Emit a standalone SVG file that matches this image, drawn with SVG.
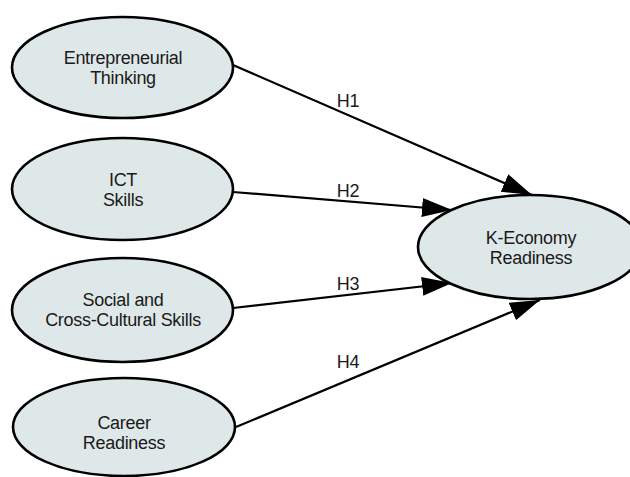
<svg xmlns="http://www.w3.org/2000/svg" width="630" height="477" viewBox="0 0 630 477">
<style>
.node ellipse{fill:#dfe8e8;stroke:#000;stroke-width:2.6}
text{font-family:"Liberation Sans",Arial,sans-serif;font-size:18px;fill:#1a1a1a;text-anchor:middle;letter-spacing:-0.3px}
.edge{stroke:#000;stroke-width:2.2;fill:none;marker-end:url(#arr)}
</style>
<defs>
<marker id="arr" markerUnits="userSpaceOnUse" markerWidth="32" markerHeight="20" refX="30" refY="9.5" orient="auto">
<path d="M0,0 L30,9.5 L0,19 Z" fill="#000"/>
</marker>
</defs>
<rect width="630" height="477" fill="#fff"/>
<g id="connectors">
<line class="edge" x1="233" y1="65" x2="532" y2="195"/>
<line class="edge" x1="233" y1="192" x2="452" y2="210"/>
<line class="edge" x1="233" y1="308" x2="452" y2="283"/>
<line class="edge" x1="236" y1="427" x2="540" y2="300"/>
<text x="348" y="107">H1</text>
<text x="348" y="197">H2</text>
<text x="348" y="290">H3</text>
<text x="348" y="368">H4</text>
</g>
<g id="entrepreneurial" class="node">
<ellipse cx="122.5" cy="67.5" rx="110.5" ry="50.5"/>
<text x="123" y="64">Entrepreneurial</text>
<text x="123" y="84">Thinking</text>
</g>
<g id="ict" class="node">
<ellipse cx="122.5" cy="189" rx="110.5" ry="51"/>
<text x="123" y="186">ICT</text>
<text x="123" y="206">Skills</text>
</g>
<g id="social" class="node">
<ellipse cx="122.5" cy="310" rx="110.5" ry="52"/>
<text x="123" y="306">Social and</text>
<text x="123" y="326">Cross-Cultural Skills</text>
</g>
<g id="career" class="node">
<ellipse cx="124" cy="427" rx="111" ry="49"/>
<text x="124" y="429">Career</text>
<text x="124" y="449">Readiness</text>
</g>
<g id="keconomy" class="node">
<ellipse cx="530" cy="247" rx="112" ry="52"/>
<text x="531" y="244">K-Economy</text>
<text x="531" y="264">Readiness</text>
</g>
</svg>
